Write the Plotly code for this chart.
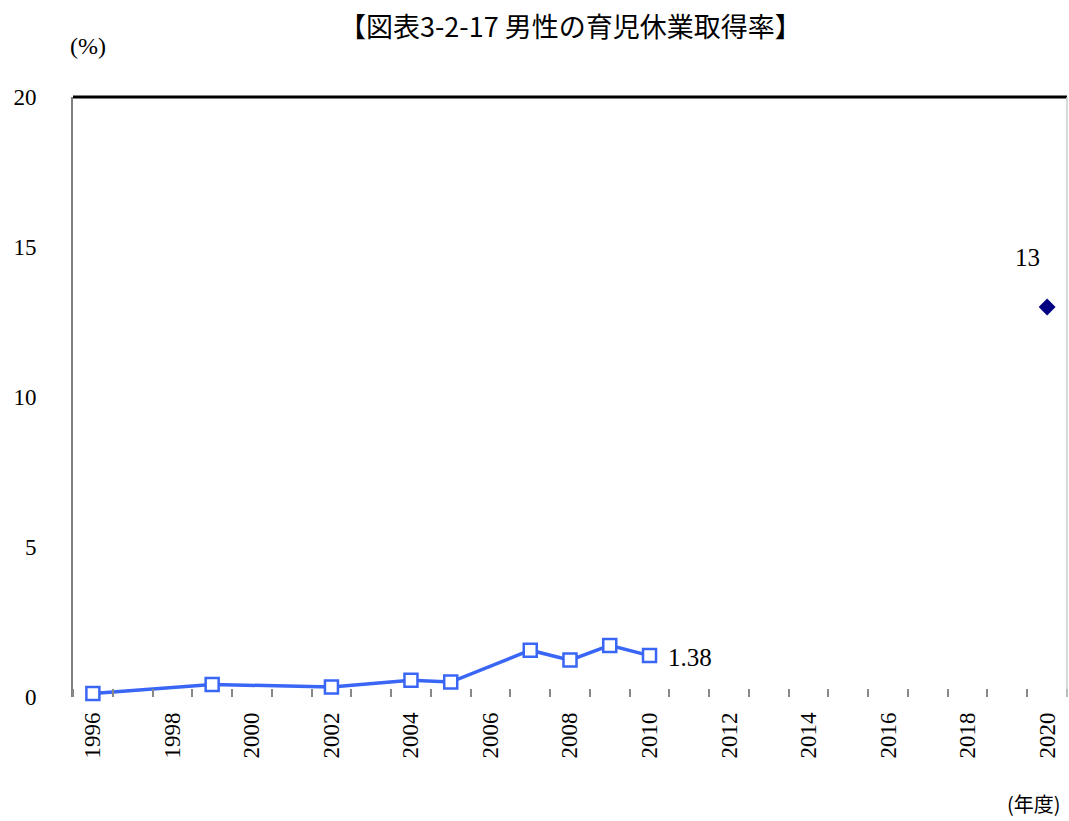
import plotly.graph_objects as go

years = [1996, 1999, 2002, 2004, 2005, 2007, 2008, 2009, 2010]
rates = [0.12, 0.42, 0.33, 0.56, 0.50, 1.56, 1.23, 1.72, 1.38]
target_year = [2020]
target_rate = [13]
x_tick_labels = [str(y) for y in range(1996, 2021, 2)]
y_ticks = [0, 5, 10, 15, 20]

title_text = "【図表3-2-17 男性の育児休業取得率】"
serif = "Liberation Serif, Times New Roman, serif"
cjk = "Noto Sans CJK JP, sans-serif"

fig = go.Figure()
fig.add_trace(go.Scatter(
    x=years, y=rates, mode="lines+markers",
    line=dict(color="#3A66F5", width=3.5),
    marker=dict(symbol="square", size=13, color="white",
                line=dict(color="#3A66F5", width=2.5)),
    showlegend=False, cliponaxis=False,
))
fig.add_trace(go.Scatter(
    x=target_year, y=target_rate, mode="markers",
    marker=dict(symbol="diamond", size=13, color="#000080"),
    showlegend=False, cliponaxis=False,
))

fig.add_annotation(x=years[-1], y=rates[-1], text=f"{rates[-1]:.2f}",
                   showarrow=False, xanchor="left", xshift=16, yshift=-2,
                   font=dict(family=serif, size=25, color="black"))
fig.add_annotation(x=target_year[0], y=target_rate[0], text=str(target_rate[0]),
                   showarrow=False, xshift=-20, yshift=50,
                   font=dict(family=serif, size=25, color="black"))

fig.add_annotation(xref="paper", yref="paper", x=0.5, y=1.0, text=title_text,
                   showarrow=False, xanchor="center", yanchor="bottom", yshift=50,
                   font=dict(family=cjk, size=27, color="black"))
fig.add_annotation(xref="paper", yref="paper", x=0, y=1, text="(%)",
                   showarrow=False, xanchor="center", yanchor="bottom", xshift=15, yshift=36,
                   font=dict(family=serif, size=24, color="black"))
fig.add_annotation(xref="paper", yref="paper", x=1, y=0, text="(年度)",
                   showarrow=False, xanchor="right", yanchor="top", xshift=-4, yshift=-90,
                   font=dict(family=cjk, size=20, color="black"))

# frame: top black line, right light line
fig.add_shape(type="line", xref="paper", yref="paper", x0=0, x1=1, y0=1, y1=1,
              line=dict(color="black", width=3))
fig.add_shape(type="line", xref="paper", yref="paper", x0=1, x1=1, y0=0, y1=1,
              line=dict(color="#cccccc", width=1.5))

fig.update_xaxes(
    range=[1995.5, 2020.5],
    tickmode="array", tickvals=[int(t) for t in x_tick_labels], ticktext=x_tick_labels,
    ticks="", tickangle=-90, showgrid=False, zeroline=False, showline=False,
    tickfont=dict(family=serif, size=23, color="black"),
    ticklabelstandoff=10,
    minor=dict(tick0=1995.5, dtick=1, ticks="inside", ticklen=8, tickwidth=2,
               tickcolor="#888888", showgrid=False),
)
fig.update_yaxes(
    range=[0, 20], tickmode="array", tickvals=y_ticks,
    ticks="", showgrid=False, zeroline=False,
    showline=True, linecolor="#808080", linewidth=2,
    tickfont=dict(family=serif, size=23, color="black"),
    ticklabelstandoff=30,
)

fig.update_layout(
    width=1069, height=821,
    margin=dict(l=73, r=2, t=97, b=124),
    plot_bgcolor="white", paper_bgcolor="white",
)

fig.write_html("out.html")
